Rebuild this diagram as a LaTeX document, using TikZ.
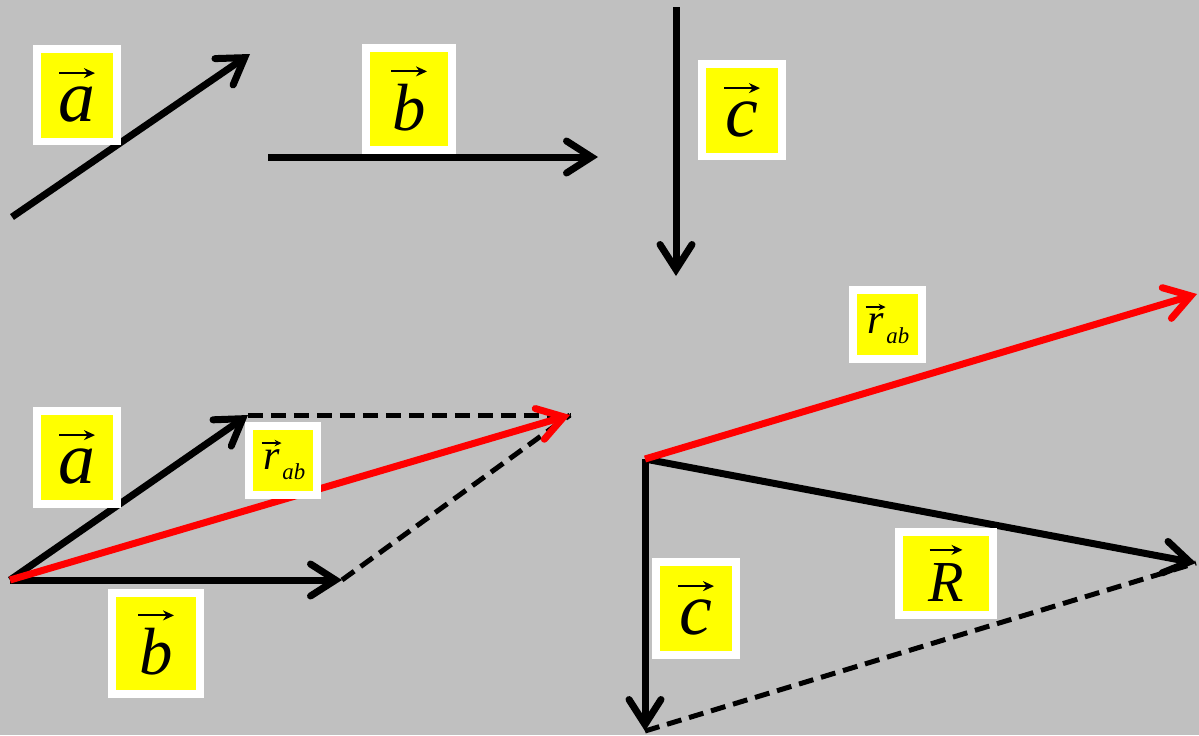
\documentclass[tikz,border=0pt]{standalone}
\usepackage{fontspec}
\setmainfont{Liberation Serif}
\newfontfamily\letterfont{Liberation Serif Italic}
\usetikzlibrary{arrows.meta}
\definecolor{Backdrop}{RGB}{192,192,192}
\definecolor{TagYellow}{RGB}{255,255,0}
\definecolor{SumRed}{RGB}{255,0,0}
\tikzset{vecbar/.style={draw=black,fill=none,line width=0.04cm,-{Stealth[length=0.22cm,width=0.2cm]}}}
% letter with a small arrow over it
\newcommand{\vecsym}[2]{\shortstack{\tikz\draw[vecbar] (0,0) -- (#1,0);\\[0.06cm]{\letterfont #2}}}
\newcommand{\vecsub}[2]{\shortstack{\tikz\draw[vecbar,line width=0.03cm,-{Stealth[length=0.14cm,width=0.13cm]}] (0,0) -- (0.4cm,0);\\[-0.03cm]{\letterfont #1}}\raisebox{-0.2cm}{\fontsize{13}{14}\selectfont\letterfont #2}}

\begin{document}
\begin{tikzpicture}[x=0.02cm,y=-0.02cm,>={Straight Barb[length=0.5cm,width=0.64cm,line cap=round]},
  vec/.style={line width=0.14cm,->},
  guide/.style={line width=0.1cm,dash pattern=on 0.3cm off 0.16cm},
  tag/.style={fill=TagYellow,draw=white,line width=0.16cm,inner sep=0pt,
    minimum width=1.6cm,minimum height=1.86cm,font=\fontsize{42}{44}\selectfont},
  smalltag/.style={tag,minimum width=1.38cm,minimum height=1.38cm,font=\fontsize{24}{26}\selectfont}]
  \fill[Backdrop] (0,0) rectangle (1199,735);
  \useasboundingbox (0,0) rectangle (1199,735);

  % the three vectors
  \coordinate (a0) at (12,217);  \coordinate (a1) at (250,54);
  \coordinate (b0) at (268,157); \coordinate (b1) at (598,157);
  \coordinate (c0) at (676,7);   \coordinate (c1) at (676,276);
  \draw[vec] (a0) -- (a1);
  \draw[vec] (b0) -- (b1);
  \draw[vec] (c0) -- (c1);
  \node[tag] (tagA) at (77,95) {\vecsym{0.72cm}{a}};
  \node[tag,minimum width=1.74cm,minimum height=2.04cm,font=\fontsize{38}{40}\selectfont] (tagB) at (409,99) {\vecsym{0.72cm}{b}};
  \node[tag] (tagC) at (742,110) {\vecsym{0.72cm}{c}};

  % a + b
  \coordinate (o1) at (10,580);
  \coordinate (pa) at (248,415);
  \coordinate (pb) at (342,580);
  \coordinate (pr) at (570,415);
  \draw[guide] (pa) -- (pr);
  \draw[guide] (pb) -- (pr);
  \draw[vec] (o1) -- (pa);
  \draw[vec] (o1) -- (pb);
  \draw[vec,SumRed] (o1) -- (pr);
  \node[tag] (tagA2) at (77,457) {\vecsym{0.72cm}{a}};
  \node[smalltag] (tagR1) at (283,460) {\vecsub{r}{ab}};
  \node[tag,minimum width=1.76cm,minimum height=2.02cm,font=\fontsize{38}{40}\selectfont] (tagB2) at (156,643) {\vecsym{0.72cm}{b}};

  % r_ab + c
  \coordinate (o2) at (645,459);
  \coordinate (qr) at (1197,294);
  \coordinate (qc) at (645,731);
  \coordinate (qR) at (1196,563);
  \draw[guide] (qc) -- (qR);
  \draw[vec] (o2) -- (qc);
  \draw[vec] (o2) -- (qR);
  \draw[vec,SumRed] (o2) -- (qr);
  \node[smalltag] (tagR2) at (887,324) {\vecsub{r}{ab}};
  \node[tag,minimum width=1.88cm,minimum height=1.66cm,font=\fontsize{33}{36}\selectfont] (tagSum) at (946,573) {\vecsym{0.66cm}{R}};
  \node[tag] (tagC2) at (696,608) {\vecsym{0.72cm}{c}};
\end{tikzpicture}
\end{document}
